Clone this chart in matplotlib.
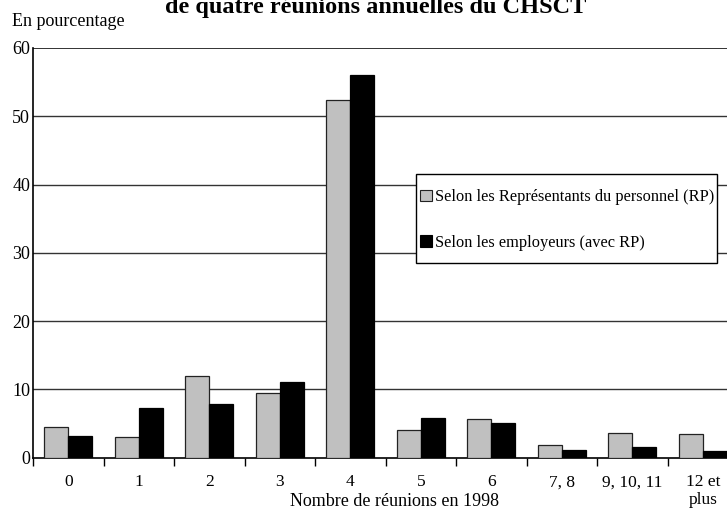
import matplotlib
matplotlib.use("Agg")
import matplotlib.pyplot as plt
import numpy as np
from matplotlib.patches import Patch, Rectangle

categories = ["0", "1", "2", "3", "4", "5", "6", "7, 8", "9, 10, 11", "12 et\nplus"]
rp_values = [4.4, 3.0, 11.9, 9.4, 52.4, 4.1, 5.6, 1.8, 3.6, 3.4]
emp_values = [3.2, 7.2, 7.9, 11.1, 56.1, 5.8, 5.1, 1.1, 1.6, 0.9]
series_labels = ["Selon les Représentants du personnel (RP)", "Selon les employeurs (avec RP)"]
yticks = [0, 10, 20, 30, 40, 50, 60]

plt.rcParams['font.family'] = ['Liberation Serif', 'DejaVu Serif']

W, H = 727, 512
fig = plt.figure(figsize=(W / 100, H / 100), dpi=100)
ax = fig.add_axes([33 / W, (H - 457.5) / H, 705 / W, 409.5 / H])

x = np.arange(len(categories))
bw = 0.34
ax.bar(x - bw / 2, rp_values, bw, color="#C0C0C0", edgecolor="#222222", linewidth=0.9, zorder=3,
       label=series_labels[0])
ax.bar(x + bw / 2, emp_values, bw, color="#000000", edgecolor="#000000", linewidth=0.9, zorder=3,
       label=series_labels[1])

ax.set_xlim(-0.5, len(categories) - 0.5)
ax.set_ylim(0, 60)
ax.set_yticks(yticks)
ax.set_yticklabels([str(v) for v in yticks], fontsize=13)
for v in yticks[1:]:
    ax.axhline(v, color="#333333", linewidth=1.0 if v < 60 else 1.4, zorder=1)

ax.set_xticks(x)
ax.set_xticklabels(categories, fontsize=12.5, linespacing=1.15)
ax.set_xticks(np.arange(-0.5, len(categories) + 0.5, 1), minor=True)
ax.tick_params(axis='x', which='major', length=0, pad=12)
ax.tick_params(axis='x', which='minor', length=6, width=1, direction='out', color='black')
ax.tick_params(axis='y', length=0, pad=2)

for s in ["top", "right"]:
    ax.spines[s].set_visible(False)
ax.spines["left"].set_linewidth(1.2)
ax.spines["bottom"].set_linewidth(1.2)

# legend box
box = Rectangle((416 / W, 1 - 263 / H), (717 - 416) / W, (263 - 174) / H,
                transform=fig.transFigure, facecolor="white", edgecolor="black",
                linewidth=1.0, zorder=4)
fig.patches.append(box)

handles = [Patch(facecolor="#C0C0C0", edgecolor="#222222", linewidth=0.8),
           Patch(facecolor="#000000", edgecolor="#000000", linewidth=0.8)]
leg = fig.legend(handles, series_labels, loc="upper left",
                 bbox_to_anchor=(420 / W, 1 - 189 / H), bbox_transform=fig.transFigure,
                 fontsize=11.8, frameon=False, handlelength=0.75, handleheight=0.7,
                 handletextpad=0.18, labelspacing=1.82, borderpad=0, borderaxespad=0)
leg.set_zorder(5)

fig.text(12 / W, 1 - 26 / H, "En pourcentage", fontsize=13, ha="left", va="baseline")
fig.text(376 / W, 1 - 12.7 / H, "de quatre réunions annuelles du CHSCT", fontsize=17.5,
         fontweight="bold", ha="center", va="baseline")
fig.text(394 / W, 1 - 506 / H, "Nombre de réunions en 1998", fontsize=13, ha="center", va="baseline")

fig.savefig("out.png", dpi=100)
